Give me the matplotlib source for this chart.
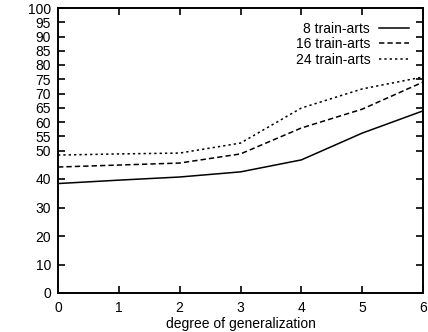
import numpy as np
import matplotlib
matplotlib.use("Agg")
import matplotlib.pyplot as plt

plt.rcParams['font.family'] = ['Liberation Sans', 'DejaVu Sans']

# values
degree = [0, 1, 2, 3, 4, 5, 6]
arts8 = [38.4, 39.6, 40.7, 42.5, 46.7, 56.1, 63.9]
arts16 = [44.2, 44.9, 45.6, 48.8, 57.9, 64.5, 74.0]
arts24 = [48.4, 48.8, 49.1, 52.6, 64.9, 71.6, 75.8]
yticks = [0, 10, 20, 30, 40, 50, 55, 60, 65, 70, 75, 80, 85, 90, 95, 100]

fig = plt.figure(figsize=(4.28, 3.32), dpi=100)
ax = fig.add_axes([58 / 428, 1 - 293 / 332, (423 - 58) / 428, (293 - 8) / 332])

ax.plot(degree, arts8, color='k', lw=1.1, ls='-', label='8 train-arts')
ax.plot(degree, arts16, color='k', lw=1.1, ls=(0, (3.5, 2)), label='16 train-arts')
ax.plot(degree, arts24, color='k', lw=1.1, ls=(0, (1.5, 2)), label='24 train-arts')

ax.set_xlim(0, 6)
ax.set_ylim(0, 100)
ax.set_xticks(degree)
ax.set_yticks(yticks)
ax.tick_params(axis='both', direction='in', top=True, right=True, length=5,
               width=1.2, labelsize=10)
ax.tick_params(axis='x', pad=6)
ax.tick_params(axis='y', pad=5)
for s in ax.spines.values():
    s.set_linewidth(1.4)
ax.set_xlabel('degree of generalization', fontsize=10, labelpad=1)

leg = ax.legend(loc='upper right', frameon=False, markerfirst=False,
                fontsize=10, handlelength=2.2, handletextpad=0.6,
                labelspacing=0.1, borderaxespad=0.6)

fig.savefig('out.png', dpi=100)
